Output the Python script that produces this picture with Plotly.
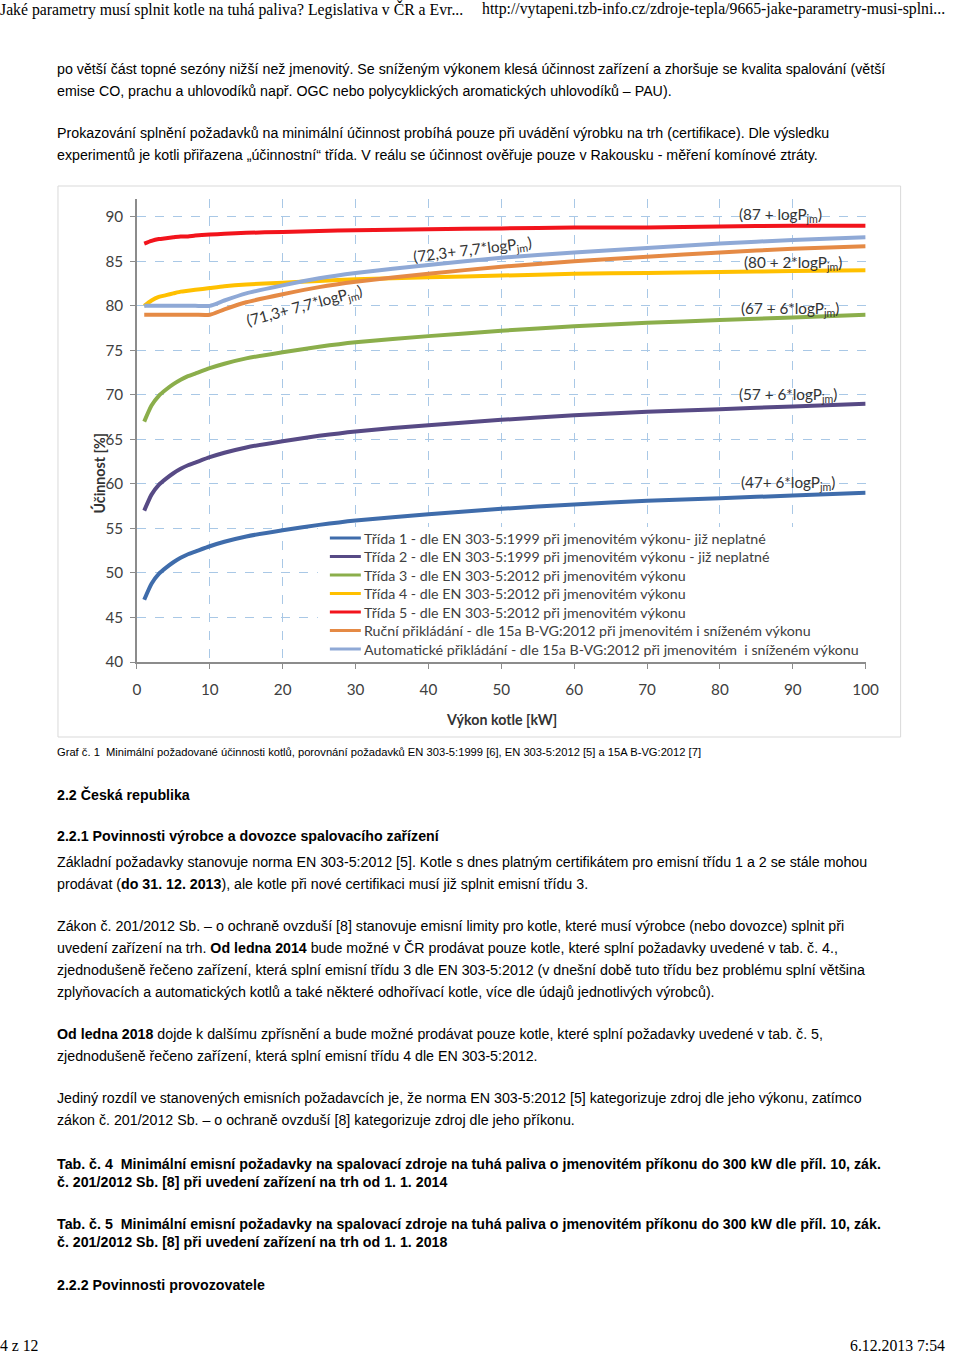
import plotly.graph_objects as go

# --- DATA ---
P_KW = [1, 2, 3, 4, 5, 6, 7, 8, 10, 12, 15, 20, 25, 30, 40, 50, 60, 70, 80, 90, 100]

TRIDA_1 = [47.0, 48.8, 49.9, 50.6, 51.2, 51.7, 52.1, 52.4, 53.0, 53.5, 54.1,
           54.8, 55.4, 55.9, 56.6, 57.2, 57.7, 58.1, 58.4, 58.7, 59.0]
TRIDA_2 = [57.0, 58.8, 59.9, 60.6, 61.2, 61.7, 62.1, 62.4, 63.0, 63.5, 64.1,
           64.8, 65.4, 65.9, 66.6, 67.2, 67.7, 68.1, 68.4, 68.7, 69.0]
TRIDA_3 = [67.0, 68.8, 69.9, 70.6, 71.2, 71.7, 72.1, 72.4, 73.0, 73.5, 74.1,
           74.8, 75.4, 75.9, 76.6, 77.2, 77.7, 78.1, 78.4, 78.7, 79.0]
TRIDA_4 = [80.0, 80.6, 81.0, 81.2, 81.4, 81.6, 81.7, 81.8, 82.0, 82.2, 82.4,
           82.6, 82.8, 83.0, 83.2, 83.4, 83.6, 83.7, 83.8, 83.9, 84.0]
TRIDA_5 = [87.0, 87.3, 87.5, 87.6, 87.7, 87.8, 87.8, 87.9, 88.0, 88.1, 88.2,
           88.3, 88.4, 88.5, 88.6, 88.7, 88.8, 88.8, 88.9, 89.0, 89.0]
RUCNI = [79.0, 79.0, 79.0, 79.0, 79.0, 79.0, 79.0, 79.0, 79.0, 79.6, 80.4,
         81.3, 82.1, 82.7, 83.6, 84.4, 85.0, 85.5, 86.0, 86.4, 86.7]
AUTOMAT = [80.0, 80.0, 80.0, 80.0, 80.0, 80.0, 80.0, 80.0, 80.0, 80.6, 81.4,
           82.3, 83.1, 83.7, 84.6, 85.4, 86.0, 86.5, 87.0, 87.4, 87.7]

SERIES_NAMES = [
    "Třída 1 - dle EN 303-5:1999 při jmenovitém výkonu- již neplatné",
    "Třída 2 - dle EN 303-5:1999 při jmenovitém výkonu - již neplatné",
    "Třída 3 - dle EN 303-5:2012 při jmenovitém výkonu",
    "Třída 4 - dle EN 303-5:2012 při jmenovitém výkonu",
    "Třída 5 - dle EN 303-5:2012 při jmenovitém výkonu",
    "Ruční přikládání - dle 15a B-VG:2012 při jmenovitém i sníženém výkonu",
    "Automatické přikládání - dle 15a B-VG:2012 při jmenovitém  i sníženém výkonu",
]
SERIES_VALUES = [TRIDA_1, TRIDA_2, TRIDA_3, TRIDA_4, TRIDA_5, RUCNI, AUTOMAT]
COLORS = ["#3F6CAB", "#574A85", "#8BAE4B", "#FFC000", "#F2141C", "#E58A45", "#8FA9D6"]

Y_TICKS = [40, 45, 50, 55, 60, 65, 70, 75, 80, 85, 90]
X_TICKS = [0, 10, 20, 30, 40, 50, 60, 70, 80, 90, 100]

# --- PAGE GEOMETRY ---
W, H = 960, 1357
# the drawn svg comes out slightly smaller than the page, so page pixels
# are mapped onto the area the figure really covers
DRAW_W, DRAW_H, DRAW_X0 = 943.4, 1349.0, 4.0
FS = 1.017  # font compensation for the same shrink
CHART_FONT = "Lato, 'Open Sans', sans-serif"
BODY_FONT = "'Liberation Sans', Arial, sans-serif"
SERIF_FONT = "'Liberation Serif', 'Times New Roman', serif"


def px(x):
    return (x - DRAW_X0) / DRAW_W


def py(y):
    return 1 - y / DRAW_H


fig = go.Figure()

for name, vals, col in zip(SERIES_NAMES, SERIES_VALUES, COLORS):
    fig.add_trace(go.Scatter(x=P_KW, y=vals, mode="lines", name=name, showlegend=False,
                             line=dict(color=col, width=4, shape="spline", smoothing=0.6)))

# formula labels inside the chart (data coords)
formula_labels = [
    (88.3, 90.2, "(87 + logP<sub>jm</sub>)", 0),
    (90.0, 84.8, "(80 + 2*logP<sub>jm</sub>)", 0),
    (89.6, 79.7, "(67 + 6*logP<sub>jm</sub>)", 0),
    (89.4, 70.0, "(57 + 6*logP<sub>jm</sub>)", 0),
    (89.4, 60.1, "(47+ 6*logP<sub>jm</sub>)", 0),
    (46.1, 86.3, "(72,3+ 7,7*logP<sub>jm</sub>)", -7),
    (23.0, 80.0, "(71,3+ 7,7*logP<sub>jm</sub>)", -15),
]

annotations = []
for x, y, t, ang in formula_labels:
    annotations.append(dict(x=x, y=y, xref="x", yref="y", text=t, showarrow=False,
                            textangle=ang, font=dict(family=CHART_FONT, size=15 * FS, color="#333333")))

# hand-made legend box (sits over the gridlines like the Excel one)
shapes = [dict(type="rect", xref="paper", yref="paper", x0=px(58), x1=px(901), y0=py(737), y1=py(186),
               line=dict(color="#D9D9D9", width=1), layer="below"),
          dict(type="rect", xref="paper", yref="paper", x0=px(318), x1=px(869), y0=py(659), y1=py(527),
               fillcolor="white", line=dict(width=0), layer="above")]
LEG_Y = [538, 556.5, 575, 593.5, 612, 630.5, 649]
for ly, name, col in zip(LEG_Y, SERIES_NAMES, COLORS):
    shapes.append(dict(type="line", xref="paper", yref="paper", x0=px(330), x1=px(361), y0=py(ly), y1=py(ly),
                       line=dict(color=col, width=3), layer="above"))
    annotations.append(dict(x=px(362), y=py(ly), xref="paper", yref="paper", text=name, showarrow=False,
                            xanchor="left", yanchor="middle",
                            font=dict(family=CHART_FONT, size=14 * FS, color="#404040")))

# axis titles
annotations.append(dict(x=px(502), y=py(719), xref="paper", yref="paper", text="<b>Výkon kotle [kW]</b>",
                        showarrow=False, font=dict(family=CHART_FONT, size=14 * FS, color="#333333")))
annotations.append(dict(x=px(88), y=py(430), xref="paper", yref="paper", text="<b>Účinnost [%]</b>",
                        showarrow=False, textangle=-90, font=dict(family=CHART_FONT, size=14 * FS, color="#333333")))

# page text
header_left = "Jaké parametry musí splnit kotle na tuhá paliva? Legislativa v ČR a Evr..."
header_right = "http://vytapeni.tzb-info.cz/zdroje-tepla/9665-jake-parametry-musi-splni..."

body_lines = [
    (69, "po větší část topné sezóny nižší než jmenovitý. Se sníženým výkonem klesá účinnost zařízení a zhoršuje se kvalita spalování (větší"),
    (91, "emise CO, prachu a uhlovodíků např. OGC nebo polycyklických aromatických uhlovodíků – PAU)."),
    (133, "Prokazování splnění požadavků na minimální účinnost probíhá pouze při uvádění výrobku na trh (certifikace). Dle výsledku"),
    (155, "experimentů je kotli přiřazena „účinnostní“ třída. V reálu se účinnost ověřuje pouze v Rakousku - měření komínové ztráty."),
    (794, "<b>2.2 Česká republika</b>"),
    (836, "<b>2.2.1 Povinnosti výrobce a dovozce spalovacího zařízení</b>"),
    (862, "Základní požadavky stanovuje norma EN 303-5:2012 [5]. Kotle s dnes platným certifikátem pro emisní třídu 1 a 2 se stále mohou"),
    (884, "prodávat (<b>do 31. 12. 2013</b>), ale kotle při nové certifikaci musí již splnit emisní třídu 3."),
    (926, "Zákon č. 201/2012 Sb. – o ochraně ovzduší [8] stanovuje emisní limity pro kotle, které musí výrobce (nebo dovozce) splnit při"),
    (948, "uvedení zařízení na trh. <b>Od ledna 2014</b> bude možné v ČR prodávat pouze kotle, které splní požadavky uvedené v tab. č. 4.,"),
    (970, "zjednodušeně řečeno zařízení, která splní emisní třídu 3 dle EN 303-5:2012 (v dnešní době tuto třídu bez problému splní většina"),
    (992, "zplyňovacích a automatických kotlů a také některé odhořívací kotle, více dle údajů jednotlivých výrobců)."),
    (1034, "<b>Od ledna 2018</b> dojde k dalšímu zpřísnění a bude možné prodávat pouze kotle, které splní požadavky uvedené v tab. č. 5,"),
    (1056, "zjednodušeně řečeno zařízení, která splní emisní třídu 4 dle EN 303-5:2012."),
    (1098, "Jediný rozdíl ve stanovených emisních požadavcích je, že norma EN 303-5:2012 [5] kategorizuje zdroj dle jeho výkonu, zatímco"),
    (1120, "zákon č. 201/2012 Sb. – o ochraně ovzduší [8] kategorizuje zdroj dle jeho příkonu."),
    (1164, "<b>Tab. č. 4  Minimální emisní požadavky na spalovací zdroje na tuhá paliva o jmenovitém příkonu do 300 kW dle příl. 10, zák.</b>"),
    (1182, "<b>č. 201/2012 Sb. [8] při uvedení zařízení na trh od 1. 1. 2014</b>"),
    (1224, "<b>Tab. č. 5  Minimální emisní požadavky na spalovací zdroje na tuhá paliva o jmenovitém příkonu do 300 kW dle příl. 10, zák.</b>"),
    (1242, "<b>č. 201/2012 Sb. [8] při uvedení zařízení na trh od 1. 1. 2018</b>"),
    (1285, "<b>2.2.2 Povinnosti provozovatele</b>"),
]
caption = "Graf č. 1  Minimální požadované účinnosti kotlů, porovnání požadavků EN 303-5:1999 [6], EN 303-5:2012 [5] a 15A B-VG:2012 [7]"

for y, t in body_lines:
    annotations.append(dict(x=px(55), y=py(y), xref="paper", yref="paper", text=t, showarrow=False,
                            xanchor="left", yanchor="middle",
                            font=dict(family=BODY_FONT, size=14 * FS, color="#000000")))

annotations.append(dict(x=px(55), y=py(752), xref="paper", yref="paper", text=caption, showarrow=False,
                        xanchor="left", yanchor="middle", font=dict(family=BODY_FONT, size=11 * FS, color="#000000")))

annotations.append(dict(x=px(-2), y=py(9), xref="paper", yref="paper", text=header_left, showarrow=False,
                        xanchor="left", yanchor="middle", font=dict(family=SERIF_FONT, size=15.5 * FS, color="#000000")))
annotations.append(dict(x=1.0, y=py(9), xref="paper", yref="paper", text=header_right, showarrow=False,
                        xanchor="right", yanchor="middle", font=dict(family=SERIF_FONT, size=15.5 * FS, color="#000000")))
annotations.append(dict(x=px(-2), y=py(1345), xref="paper", yref="paper", text="4 z 12", showarrow=False,
                        xanchor="left", yanchor="middle", font=dict(family=SERIF_FONT, size=15.5 * FS, color="#000000")))
annotations.append(dict(x=1.0, y=py(1345), xref="paper", yref="paper", text="6.12.2013 7:54", showarrow=False,
                        xanchor="right", yanchor="middle", font=dict(family=SERIF_FONT, size=15.5 * FS, color="#000000")))

GRID = "#A9C8E6"
AXIS = "#8C8C8C"

fig.update_layout(
    width=W, height=H,
    margin=dict(l=0, r=0, t=0, b=0),
    paper_bgcolor="white", plot_bgcolor="white",
    xaxis=dict(domain=[px(137), px(866)], range=[0, 100], tickvals=X_TICKS,
               showgrid=True, gridcolor=GRID, griddash="dash", gridwidth=1,
               showline=True, linecolor=AXIS, linewidth=1.5, zeroline=False,
               ticks="outside", ticklen=5, tickcolor=AXIS, ticklabelstandoff=8,
               tickfont=dict(family=CHART_FONT, size=15 * FS, color="#404040"), fixedrange=True),
    yaxis=dict(domain=[py(662), py(199)], range=[40, 92], tickvals=Y_TICKS,
               showgrid=True, gridcolor=GRID, griddash="dash", gridwidth=1,
               showline=True, linecolor=AXIS, linewidth=1.5, zeroline=False,
               ticks="outside", ticklen=5, tickcolor=AXIS, ticklabelstandoff=4,
               tickfont=dict(family=CHART_FONT, size=15 * FS, color="#404040"), fixedrange=True),
    showlegend=False,
    annotations=annotations,
    shapes=shapes,
)

# fixed-size page: no body margin, no responsive resize
fig.write_html("out.html", config={"displayModeBar": False, "responsive": False},
               post_script="document.body.style.margin='0';")
